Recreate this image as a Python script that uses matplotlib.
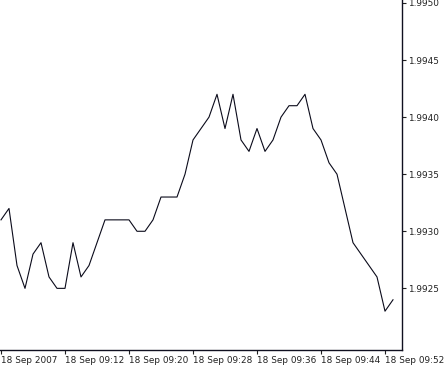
import numpy as np
import pandas as pd
import matplotlib
matplotlib.use('Agg')
import matplotlib.pyplot as plt
import matplotlib.dates as mdates

# one quote per minute, 18 Sep 2007 09:04 .. 09:53
times = pd.date_range('2007-09-18 09:04', periods=50, freq='1min')
prices = [1.9931, 1.9932, 1.9927, 1.9925, 1.9928, 1.9929, 1.9926, 1.9925, 1.9925, 1.9929,
          1.9926, 1.9927, 1.9929, 1.9931, 1.9931, 1.9931, 1.9931, 1.9930, 1.9930, 1.9931,
          1.9933, 1.9933, 1.9933, 1.9935, 1.9938, 1.9939, 1.9940, 1.9942, 1.9939, 1.9942,
          1.9938, 1.9937, 1.9939, 1.9937, 1.9938, 1.9940, 1.9941, 1.9941, 1.9942, 1.9939,
          1.9938, 1.9936, 1.9935, 1.9932, 1.9929, 1.9928, 1.9927, 1.9926, 1.9923, 1.9924]

xtick_times = pd.date_range('2007-09-18 09:04', periods=7, freq='8min')
xtick_labels = ['18 Sep 2007', '18 Sep 09:12', '18 Sep 09:20', '18 Sep 09:28',
                '18 Sep 09:36', '18 Sep 09:44', '18 Sep 09:52']
yticks = [1.9925, 1.9930, 1.9935, 1.9940, 1.9945, 1.9950]

fig = plt.figure(figsize=(4.44, 3.69), dpi=100)
ax = fig.add_axes([0.0, 19/369, 402/444, 1 - 19/369])

ax.plot(times, prices, color='#0a0a1a', linewidth=0.8)

minute = pd.Timedelta('1min')
ax.set_xlim(times[0] - minute / 8, times[0] + minute * 50.125)
ax.set_ylim(1.99196, 1.995026)

ax.set_xticks(xtick_times)
ax.set_xticklabels(xtick_labels, ha='left', fontsize=6.4, color='#222222')
ax.set_yticks(yticks)
ax.set_yticklabels(['%.4f' % v for v in yticks], fontsize=6.4, color='#222222')
ax.yaxis.tick_right()
ax.tick_params(axis='both', direction='out', length=3, width=0.8, color='#202020', pad=1.5)

ax.spines['left'].set_visible(False)
ax.spines['top'].set_visible(False)
ax.spines['right'].set_color('#101020')
ax.spines['bottom'].set_color('#101020')
ax.spines['right'].set_linewidth(1.0)
ax.spines['bottom'].set_linewidth(1.0)

fig.savefig('out.png', dpi=100)
